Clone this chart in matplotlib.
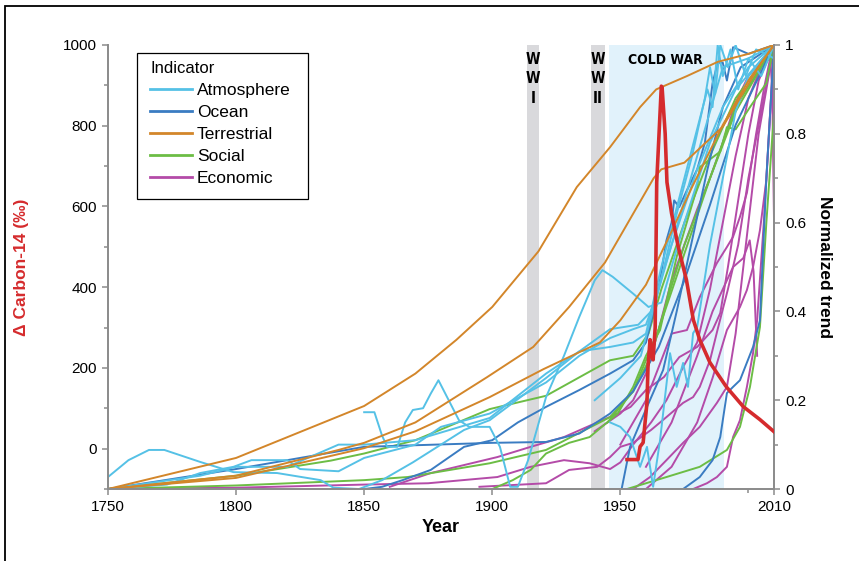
import matplotlib
matplotlib.use("Agg")
import matplotlib.pyplot as plt
from matplotlib.patches import Rectangle
from matplotlib.ticker import MultipleLocator, FixedLocator
import matplotlib.transforms as mtransforms

plt.rcParams["font.family"] = ["Liberation Sans", "DejaVu Sans"]

# Delta carbon-14 (left axis, per mil)
c14_year = [1952.6, 1956.9, 1957.7, 1958.9, 1960.4, 1960.8, 1961.6, 1962.3, 1962.8, 1963.6,
            1964.2, 1966.0, 1966.3, 1967.5, 1968.2, 1970, 1972.6, 1975.8, 1978.5, 1981,
            1985, 1991.4, 1998, 2004.5, 2010]
c14_value = [-27, -27, 5, 15, 114, 203, 270, 228, 220, 300,
             660, 898, 895, 780, 660, 583, 500, 418, 319, 270,
             213, 153, 104, 72, 42]

# normalized indicator trends (right axis), (year, value) pairs
ter_1 = [(1750, 0), (1800, 0.07), (1850, 0.187), (1870, 0.26), (1886, 0.336), (1900, 0.41),
         (1918, 0.535), (1933, 0.68), (1946, 0.77), (1957.7, 0.86), (1964, 0.9), (1976, 0.93),
         (1988, 0.962), (2000, 0.98), (2010, 1.0)]
ter_2 = [(1750, 0), (1800, 0.03), (1840, 0.088), (1850, 0.104), (1870, 0.15), (1898, 0.252),
         (1916, 0.32), (1930, 0.41), (1944, 0.51), (1953, 0.6), (1963, 0.7), (1966, 0.72),
         (1975, 0.735), (1990, 0.816), (2005, 0.96), (2010, 1.0)]
ter_3 = [(1750, 0), (1800, 0.025), (1850, 0.092), (1870, 0.13), (1899, 0.207), (1920, 0.27),
         (1942, 0.33), (1950, 0.38), (1960, 0.46), (1970, 0.58), (1978, 0.68), (1990, 0.82),
         (2000, 0.92), (2010, 1.0)]

atm_1 = [(1750, 0.027), (1758, 0.065), (1766, 0.088), (1772, 0.088), (1786, 0.061), (1799, 0.038),
         (1816, 0.036), (1833, 0.02), (1838, 0.003), (1848, 0), (1857, 0.02), (1869, 0.06),
         (1889, 0.133), (1899, 0.155), (1921, 0.25), (1934, 0.31), (1946, 0.36), (1957, 0.37),
         (1962, 0.4), (1970, 0.55), (1980, 0.72), (1990, 0.86), (2000, 0.95), (2010, 1.0)]
atm_2 = [(1850, 0.173), (1854, 0.173), (1857, 0.12), (1859, 0.095), (1863, 0.095), (1866, 0.15),
         (1869, 0.178), (1873, 0.182), (1876, 0.215), (1879, 0.245), (1883, 0.2), (1887, 0.155),
         (1891, 0.14), (1899, 0.14), (1903, 0.095), (1907, 0.005), (1910, 0.005), (1914, 0.065),
         (1921, 0.207), (1928, 0.3), (1934, 0.388), (1940, 0.47), (1943, 0.493), (1947, 0.478),
         (1955, 0.44), (1961, 0.41), (1966, 0.42), (1975, 0.6), (1985, 0.78), (1995, 0.9), (2010, 1.0)]
atm_3 = [(1750, 0), (1773, 0.01), (1786, 0.036), (1799, 0.05), (1806, 0.065), (1820, 0.065),
         (1825, 0.045), (1840, 0.04), (1850, 0.07), (1870, 0.1), (1880, 0.14), (1899, 0.17),
         (1921, 0.24), (1934, 0.3), (1946, 0.34), (1955, 0.36), (1960, 0.37), (1965, 0.45),
         (1975, 0.65), (1985, 0.85), (1990, 0.95), (2000, 0.97), (2010, 1.0)]
atm_4 = [(1750, 0), (1786, 0.03), (1800, 0.05), (1820, 0.05), (1840, 0.1), (1850, 0.1),
         (1870, 0.11), (1899, 0.16), (1921, 0.26), (1934, 0.31), (1946, 0.32), (1955, 0.33),
         (1960, 0.35), (1966, 0.5), (1975, 0.7), (1984, 0.9), (1986, 0.86), (1988, 1.0),
         (1990, 0.93), (1993, 0.99), (1996, 0.9), (2000, 0.97), (2005, 0.93), (2010, 1.0)]
atm_5 = [(1946, 0.15), (1950, 0.14), (1953.8, 0.117), (1957.7, 0.05), (1960.4, 0.095),
         (1962.8, 0.005), (1965.5, 0.11), (1969.4, 0.306), (1972, 0.23), (1974.5, 0.284),
         (1976.4, 0.23), (1978.4, 0.351), (1980, 0.365), (1985, 0.55), (1990, 0.7),
         (1995, 0.85), (2000, 0.93), (2010, 1.0)]
atm_6 = [(1940, 0.2), (1950, 0.25), (1958, 0.3), (1965, 0.45), (1972, 0.62), (1978, 0.75),
         (1983, 0.88), (1985, 0.95), (1987, 0.89), (1989, 1.0), (1992, 0.95), (1995, 1.0),
         (1999, 0.93), (2003, 0.99), (2010, 0.97)]

oce_1 = [(1750, 0), (1800, 0.045), (1850, 0.095), (1900, 0.104), (1921, 0.106), (1934, 0.125),
         (1946, 0.17), (1955, 0.22), (1965, 0.32), (1975, 0.47), (1985, 0.64), (1995, 0.82),
         (2010, 1.0)]
oce_2 = [(1850, 0), (1857, 0.005), (1865, 0.02), (1876, 0.043), (1889, 0.095), (1900, 0.11),
         (1910, 0.15), (1921, 0.185), (1934, 0.223), (1946, 0.26), (1955, 0.29), (1960, 0.33),
         (1963, 0.4), (1965.5, 0.47), (1968, 0.56), (1970, 0.6), (1971, 0.65), (1973, 0.635),
         (1976, 0.673), (1980, 0.72), (1983, 0.78), (1986, 0.914), (1988, 0.96), (1990, 0.96),
         (1991.6, 0.92), (1994, 0.995), (2000, 0.98), (2010, 1.0)]
oce_3 = [(1950.5, 0), (1953.8, 0.095), (1960.4, 0.185), (1966.7, 0.268), (1972, 0.4),
         (1978, 0.56), (1984, 0.72), (1990, 0.86), (1997, 0.95), (2010, 1.0)]
oce_4 = [(1962.8, 0), (1974.5, 0), (1981, 0.027), (1986, 0.065), (1989, 0.117), (1991.6, 0.216),
         (1994, 0.23), (1996.7, 0.245), (2001.8, 0.32), (2004.5, 0.38), (2007, 0.7), (2010, 1.0)]

soc_1 = [(1750, 0), (1800, 0.008), (1850, 0.02), (1867, 0.027), (1899, 0.058), (1921, 0.088),
         (1946, 0.162), (1955, 0.22), (1965, 0.36), (1975, 0.53), (1985, 0.7), (1995, 0.86),
         (2010, 1.0)]
soc_2 = [(1750, 0), (1800, 0.03), (1837, 0.064), (1850, 0.08), (1870, 0.11), (1899, 0.18),
         (1921, 0.21), (1946, 0.29), (1955, 0.3), (1961, 0.35), (1966, 0.45), (1975, 0.6),
         (1985, 0.75), (1995, 0.88), (2010, 1.0)]
soc_3 = [(1900, 0), (1908, 0.02), (1915, 0.043), (1921, 0.08), (1930, 0.104), (1938, 0.117),
         (1949, 0.17), (1955, 0.23), (1960, 0.3), (1965.5, 0.358), (1972, 0.523), (1980, 0.68),
         (1981, 0.725), (1989, 0.76), (1991.6, 0.815), (1995, 0.81), (2000.6, 0.86),
         (2007, 0.914), (2010, 1.0)]
soc_4 = [(1952.6, 0), (1968, 0.027), (1981, 0.05), (1991.6, 0.088), (1996.7, 0.14),
         (2000.6, 0.23), (2004.5, 0.365), (2007, 0.6), (2010, 0.85)]
soc_5 = [(1945, 0.15), (1955, 0.22), (1962, 0.3), (1968, 0.42), (1975, 0.55), (1985, 0.7),
         (1995, 0.85), (2005, 0.95), (2010, 0.98)]

eco_1 = [(1750, 0), (1800, 0.003), (1850, 0.01), (1875, 0.013), (1902, 0.027), (1915, 0.05),
         (1928, 0.065), (1938, 0.058), (1946, 0.045), (1950, 0.06), (1955, 0.1), (1962, 0.15),
         (1968, 0.2), (1975, 0.28), (1980, 0.33), (1985, 0.45), (1990, 0.6), (1995, 0.75),
         (2000, 0.88), (2005, 0.95), (2010, 1.0)]
eco_2 = [(1860, 0.005), (1876, 0.036), (1902, 0.072), (1915, 0.095), (1928, 0.117), (1943, 0.155),
         (1949, 0.17), (1954, 0.185), (1960, 0.223), (1967, 0.252), (1973, 0.297), (1980, 0.32),
         (1986, 0.358), (1989, 0.396), (1992, 0.5), (1996, 0.65), (2000, 0.8), (2004, 0.92),
         (2010, 1.0)]
eco_3 = [(1895, 0.005), (1921, 0.013), (1930, 0.043), (1941, 0.05), (1946, 0.072), (1950, 0.095),
         (1955, 0.104), (1962, 0.133), (1968, 0.162), (1974.5, 0.194), (1978.4, 0.207),
         (1981, 0.23), (1985, 0.29), (1988, 0.36), (1992, 0.45), (1996, 0.55), (2000, 0.7),
         (2005, 0.85), (2010, 1.0)]
eco_4 = [(1955, 0), (1961.6, 0.027), (1968, 0.065), (1974.5, 0.104), (1981, 0.14),
         (1987.7, 0.194), (1991.6, 0.23), (1995, 0.35), (1998, 0.5), (2001, 0.65), (2004, 0.8),
         (2007, 0.9), (2010, 1.0)]
eco_5 = [(1965.5, 0), (1978.4, 0), (1983.8, 0.013), (1987.7, 0.027), (1991.6, 0.05),
         (1994, 0.117), (1996.7, 0.155), (1999.4, 0.23), (2001.8, 0.306), (2003.4, 0.38),
         (2006, 0.6), (2008, 0.8), (2010, 1.0)]
eco_6 = [(1960, 0.05), (1970, 0.15), (1980, 0.3), (1986, 0.4), (1990, 0.45), (1994, 0.5),
         (1998, 0.52), (2000.5, 0.56), (2002, 0.49), (2003.4, 0.3)]
eco_7 = [(1950, 0.1), (1960, 0.2), (1970, 0.35), (1976, 0.358), (1981, 0.432), (1987.7, 0.509),
         (1991.6, 0.545), (1994, 0.568), (1996.7, 0.613), (1999.4, 0.667), (2003, 0.8),
         (2006, 0.9), (2008.5, 0.97), (2009.3, 0.9), (2010, 0.6)]
eco_8 = [(1960, 0), (1970, 0.05), (1980, 0.15), (1986, 0.25), (1991.6, 0.358), (1996.7, 0.41),
         (1999.4, 0.448), (2001.8, 0.5), (2004.5, 0.583), (2007, 0.696), (2010, 1.0)]
eco_9 = [(1940, 0.13), (1950, 0.17), (1955, 0.2), (1960, 0.26), (1965, 0.36), (1970, 0.47),
         (1975, 0.55), (1980, 0.63), (1985, 0.7), (1990, 0.78), (1995, 0.87), (2000, 0.93),
         (2010, 1.0)]

indicators = {
    "Economic": [eco_1, eco_2, eco_3, eco_4, eco_5, eco_6, eco_7, eco_8, eco_9],
    "Social": [soc_1, soc_2, soc_3, soc_4, soc_5],
    "Ocean": [oce_1, oce_2, oce_3, oce_4],
    "Atmosphere": [atm_1, atm_2, atm_3, atm_4, atm_5, atm_6],
    "Terrestrial": [ter_1, ter_2, ter_3],
}
colors = {
    "Atmosphere": "#55c1e6",
    "Ocean": "#3a7cc2",
    "Terrestrial": "#d3862a",
    "Social": "#6cbd45",
    "Economic": "#b44ba8",
}
legend_order = ["Atmosphere", "Ocean", "Terrestrial", "Social", "Economic"]

wars = [(1913.6, 1918.3, "W\nW\nI"), (1938.5, 1944, "W\nW\nII")]
cold_war = (1945.5, 1990.3)

W, H = 859, 561
fig = plt.figure(figsize=(8.59, 5.61), dpi=100)
fig.patches.append(Rectangle((5 / W, -0.05), 2, 1.0393, transform=fig.transFigure,
                             fill=False, edgecolor="black", linewidth=1.3))

ax = fig.add_axes([0.1257, 0.1283, 0.7754, 0.7915])
ax.set_xlim(1750, 2010)
ax.set_ylim(0, 1)

# shaded periods
blend = mtransforms.blended_transform_factory(ax.transData, ax.transAxes)
for start, end, label in wars:
    ax.axvspan(start, end, color="#d9d9dc", lw=0, zorder=0)
    ax.text((start + end) / 2, 0.985, label, ha="center", va="top", fontsize=10.5,
            fontweight="bold", family="DejaVu Sans", fontstretch="condensed",
            linespacing=1.4, transform=blend)
ax.axvspan(cold_war[0], cold_war[1], color="#e1f2fb", lw=0, zorder=0)
ax.text(1967.4, 0.982, "COLD WAR", ha="center", va="top", fontsize=10, fontweight="bold",
        family="DejaVu Sans", fontstretch="condensed", transform=blend)

for cat, series in indicators.items():
    for s in series:
        ax.plot([p[0] for p in s], [p[1] for p in s], color=colors[cat], lw=1.4, zorder=2)

# legend with a hand-drawn frame (the original box is wider than its contents)
ax.add_patch(Rectangle((137 / W, 1 - 199 / H), 171 / W, 146 / H, transform=fig.transFigure,
                       facecolor="white", edgecolor="black", linewidth=0.9, zorder=4,
                       clip_on=False))
handles = [plt.Line2D([], [], color=colors[c], lw=2) for c in legend_order]
leg = ax.legend(handles, legend_order, title="Indicator", loc="upper left",
                bbox_to_anchor=(150 / W, 1 - 61 / H), bbox_transform=fig.transFigure,
                borderaxespad=0, borderpad=0, fontsize=12.5, title_fontsize=12,
                frameon=False, handlelength=2.4, labelspacing=0.4, handletextpad=0.3)
leg._legend_box.align = "left"
leg.set_zorder(5)

ax2 = ax.twinx()
ax2.set_ylim(-100, 1000)
ax2.plot(c14_year, c14_value, color="#d52b2d", lw=2.6, zorder=3)

# axes styling
ax.yaxis.tick_right()
ax2.yaxis.tick_left()
for a in (ax, ax2):
    a.spines["top"].set_visible(False)
    for side in ("left", "right", "bottom"):
        a.spines[side].set_color("#8c8c8c")
        a.spines[side].set_linewidth(1.3)
    a.tick_params(which="both", color="#8c8c8c", labelsize=11, width=1.1)
    a.tick_params(which="major", length=4.5)
    a.tick_params(which="minor", length=3)

ax.xaxis.set_major_locator(FixedLocator([1750, 1800, 1850, 1900, 1950, 2010]))
ax.xaxis.set_minor_locator(FixedLocator([2000]))
ax.yaxis.set_major_locator(FixedLocator([0, 0.2, 0.4, 0.6, 0.8, 1.0]))
ax.set_yticklabels(["0", "0.2", "0.4", "0.6", "0.8", "1"])
ax.yaxis.set_minor_locator(MultipleLocator(0.1))
ax2.yaxis.set_major_locator(FixedLocator([0, 200, 400, 600, 800, 1000]))
ax2.yaxis.set_minor_locator(MultipleLocator(100))

fig.text(22 / W, 0.524, "\u0394 Carbon-14 (\u2030)", rotation=90, ha="center", va="center",
         fontsize=12.5, fontweight="bold", color="#d52b2d")
fig.text(825 / W, 0.524, "Normalized trend", rotation=270, ha="center", va="center",
         fontsize=12.5, fontweight="bold")
fig.text(441 / W, 1 - 527 / H, "Year", ha="center", va="center", fontsize=13,
         fontweight="bold")

fig.savefig("out.png", dpi=100)
